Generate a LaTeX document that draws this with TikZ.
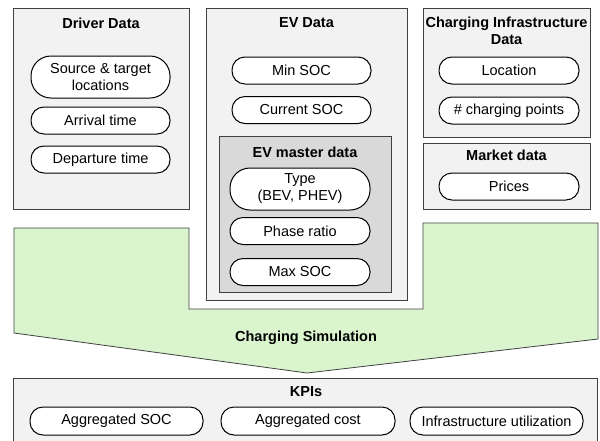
\documentclass[tikz,border=0pt]{standalone}
\usepackage{fontspec}
\setmainfont{Liberation Sans}
\usetikzlibrary{positioning}

\definecolor{panelgray}{HTML}{F2F2F2}
\definecolor{mastergray}{HTML}{D9D9D9}
\definecolor{simgreen}{HTML}{DAF5CD}
\definecolor{edgegray}{HTML}{404040}

\begin{document}
\begin{tikzpicture}[x=1pt,y=-1pt,
  font=\fontsize{14.5}{17}\selectfont,
  panel/.style={draw=edgegray,fill=panelgray,line width=0.8pt,inner sep=0pt,anchor=north west},
  title/.style={font=\fontsize{14.5}{17}\selectfont\bfseries,align=center},
  pill/.style={draw=black,fill=white,line width=1pt,rounded corners=13pt,
    minimum width=139pt,minimum height=27pt,inner sep=0pt,align=center},
  tallpill/.style={pill,minimum height=42pt,rounded corners=20pt}]
\useasboundingbox (0,0) rectangle (600,440);

% driver panel
\node[panel,minimum width=176pt,minimum height=201pt] (driver) at (13,8) {};
\node[title] (drivertitle) at (101,23) {Driver Data};
\node[tallpill] (srctgt) at (100.5,77) {Source \& target\\locations};
\node[pill] (arrival) at (100.5,120.5) {Arrival time};
\node[pill] (departure) at (100.5,159.5) {Departure time};

% ev panel with master data inside
\node[panel,minimum width=201pt,minimum height=292pt] (ev) at (206,8) {};
\node[title] (evtitle) at (306.5,23) {EV Data};
\node[pill] (minsoc) at (301.5,70.5) {Min SOC};
\node[pill] (cursoc) at (301.5,110) {Current SOC};
\node[panel,fill=mastergray,minimum width=172pt,minimum height=156pt] (master) at (219,136) {};
\node[title] (mastertitle) at (305,152) {EV master data};
\node[tallpill,minimum width=140pt] (evtype) at (300,189) {Type\\(BEV, PHEV)};
\node[pill,minimum width=140pt] (phase) at (300,231) {Phase ratio};
\node[pill,minimum width=140pt] (maxsoc) at (300,272) {Max SOC};

% infrastructure and market panels
\node[panel,minimum width=167pt,minimum height=129pt] (infra) at (423,8) {};
\node[title] (infratitle) at (506.5,30.5) {Charging Infrastructure\\Data};
\node[pill,minimum width=140pt] (location) at (509,70.5) {Location};
\node[pill,minimum width=140pt] (points) at (509,110.5) {\# charging points};
\node[panel,minimum width=167pt,minimum height=66pt] (market) at (423,143) {};
\node[title] (markettitle) at (506.5,155) {Market data};
\node[pill,minimum width=140pt] (prices) at (509,186.5) {Prices};

% simulation arrow
\draw[fill=simgreen,draw=edgegray,line width=0.8pt]
  (14,228) -- (189,228) -- (189,309) -- (423,309) -- (423,223) -- (598,223)
  -- (598,339) -- (307,373) -- (14,333) -- cycle;
\node[title] (sim) at (306,338) {Charging Simulation};

% kpi panel
\node[panel,minimum width=584pt,minimum height=72pt] (kpis) at (13,378) {};
\node[title] (kpititle) at (306,392) {KPIs};
\node[pill,minimum width=173pt,minimum height=28pt] (aggsoc) at (116.5,421) {Aggregated SOC};
\node[pill,minimum width=174pt,minimum height=28pt] (aggcost) at (308,421) {Aggregated cost};
\node[pill,minimum width=173pt,minimum height=28pt] (utilization) at (496.5,421) {Infrastructure utilization};
\end{tikzpicture}
\end{document}
